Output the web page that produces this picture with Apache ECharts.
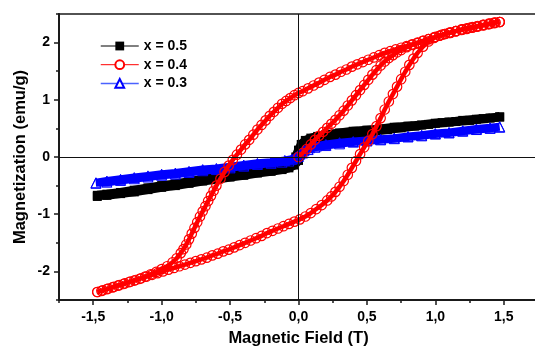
<!DOCTYPE html>
<html><head><meta charset="utf-8">
<script src="https://cdn.jsdelivr.net/npm/echarts@6/dist/echarts.min.js"></script>
<style>html,body{margin:0;padding:0;background:#fff}#c{width:535px;height:347px}</style>
</head><body><div id="c"></div>
<script>
// ---- data (field H in T, magnetization M in emu/g) ----
const seriesNames = ['x = 0.5', 'x = 0.4', 'x = 0.3'];
const xAxisTitle = 'Magnetic Field (T)';
const yAxisTitle = 'Magnetization (emu/g)';

const blackDown = [[1.47,0.70],[1.40,0.68],[1.30,0.66],[1.20,0.64],[1.10,0.61],[1.00,0.59],[0.90,0.56],[0.80,0.54],[0.70,0.52],[0.60,0.49],[0.50,0.47],[0.40,0.45],[0.30,0.42],[0.20,0.39],[0.14,0.36],[0.09,0.33],[0.05,0.29],[0.02,0.22],[0.00,0.12],[-0.02,0.00],[-0.04,-0.09],[-0.07,-0.15],[-0.12,-0.19],[-0.20,-0.22],[-0.30,-0.25],[-0.40,-0.29],[-0.50,-0.32],[-0.60,-0.36],[-0.70,-0.39],[-0.80,-0.43],[-0.90,-0.47],[-1.00,-0.50],[-1.10,-0.54],[-1.20,-0.58],[-1.30,-0.62],[-1.40,-0.65],[-1.47,-0.67]];
const blackUp = [[-1.47,-0.69],[-1.40,-0.67],[-1.30,-0.64],[-1.20,-0.61],[-1.10,-0.57],[-1.00,-0.53],[-0.90,-0.50],[-0.80,-0.46],[-0.70,-0.42],[-0.60,-0.39],[-0.50,-0.35],[-0.40,-0.32],[-0.30,-0.28],[-0.20,-0.25],[-0.12,-0.22],[-0.07,-0.19],[-0.03,-0.14],[0.00,-0.06],[0.02,0.06],[0.04,0.15],[0.07,0.22],[0.11,0.27],[0.17,0.31],[0.25,0.35],[0.35,0.39],[0.45,0.42],[0.55,0.45],[0.65,0.48],[0.75,0.51],[0.85,0.54],[0.95,0.57],[1.05,0.60],[1.15,0.62],[1.25,0.64],[1.35,0.67],[1.47,0.70]];

const redVirgin = [[0.00,0.00],[0.03,0.07],[0.06,0.14],[0.09,0.22],[0.12,0.30],[0.15,0.37],[0.18,0.44],[0.21,0.51],[0.24,0.58],[0.27,0.65],[0.30,0.73],[0.33,0.81],[0.36,0.90],[0.39,0.99],[0.42,1.08],[0.45,1.17],[0.48,1.26],[0.51,1.35],[0.54,1.44],[0.57,1.52],[0.60,1.60],[0.63,1.67],[0.66,1.73],[0.69,1.78],[0.72,1.83],[0.75,1.87],[0.79,1.92],[0.83,1.96],[0.87,1.99],[0.91,2.03],[0.95,2.06],[1.00,2.10],[1.05,2.14],[1.10,2.17],[1.15,2.20],[1.20,2.23],[1.25,2.26],[1.30,2.28],[1.35,2.31],[1.40,2.33],[1.44,2.35],[1.47,2.36]];
const redDown = [[1.47,2.36],[1.43,2.34],[1.39,2.32],[1.35,2.30],[1.31,2.28],[1.27,2.26],[1.23,2.24],[1.19,2.22],[1.15,2.20],[1.11,2.17],[1.07,2.15],[1.03,2.12],[0.99,2.09],[0.95,2.06],[0.91,2.03],[0.87,2.00],[0.83,1.97],[0.79,1.94],[0.75,1.91],[0.71,1.88],[0.67,1.85],[0.63,1.82],[0.59,1.78],[0.55,1.74],[0.51,1.70],[0.47,1.66],[0.43,1.62],[0.39,1.58],[0.35,1.53],[0.31,1.49],[0.27,1.44],[0.23,1.40],[0.19,1.35],[0.15,1.30],[0.11,1.25],[0.07,1.20],[0.03,1.15],[0.00,1.12],[-0.03,1.08],[-0.06,1.03],[-0.09,0.98],[-0.12,0.93],[-0.15,0.86],[-0.18,0.79],[-0.21,0.72],[-0.24,0.64],[-0.27,0.56],[-0.30,0.48],[-0.33,0.39],[-0.36,0.30],[-0.39,0.22],[-0.42,0.13],[-0.45,0.04],[-0.48,-0.05],[-0.51,-0.15],[-0.54,-0.26],[-0.57,-0.38],[-0.60,-0.50],[-0.62,-0.59],[-0.64,-0.68],[-0.66,-0.77],[-0.68,-0.86],[-0.70,-0.95],[-0.72,-1.04],[-0.74,-1.14],[-0.76,-1.24],[-0.78,-1.34],[-0.80,-1.44],[-0.82,-1.53],[-0.84,-1.61],[-0.86,-1.68],[-0.89,-1.77],[-0.92,-1.84],[-0.96,-1.91],[-1.00,-1.96],[-1.04,-2.01],[-1.08,-2.05],[-1.12,-2.09],[-1.16,-2.13],[-1.20,-2.16],[-1.24,-2.19],[-1.28,-2.22],[-1.32,-2.25],[-1.36,-2.28],[-1.40,-2.31],[-1.44,-2.34],[-1.47,-2.36]];
const redUp = [[-1.47,-2.36],[-1.43,-2.33],[-1.39,-2.30],[-1.35,-2.27],[-1.31,-2.24],[-1.27,-2.21],[-1.23,-2.18],[-1.19,-2.15],[-1.15,-2.12],[-1.11,-2.09],[-1.07,-2.06],[-1.03,-2.03],[-0.99,-2.00],[-0.95,-1.97],[-0.91,-1.94],[-0.87,-1.91],[-0.83,-1.88],[-0.79,-1.85],[-0.75,-1.82],[-0.71,-1.79],[-0.67,-1.76],[-0.63,-1.72],[-0.59,-1.69],[-0.55,-1.65],[-0.51,-1.62],[-0.47,-1.58],[-0.43,-1.54],[-0.39,-1.50],[-0.35,-1.46],[-0.31,-1.42],[-0.27,-1.38],[-0.23,-1.33],[-0.19,-1.29],[-0.15,-1.25],[-0.11,-1.21],[-0.07,-1.17],[-0.03,-1.13],[0.01,-1.09],[0.05,-1.04],[0.09,-0.98],[0.13,-0.91],[0.17,-0.84],[0.21,-0.76],[0.24,-0.69],[0.27,-0.61],[0.30,-0.52],[0.33,-0.42],[0.36,-0.31],[0.39,-0.19],[0.42,-0.07],[0.45,0.05],[0.48,0.17],[0.51,0.28],[0.54,0.40],[0.57,0.54],[0.60,0.68],[0.63,0.83],[0.66,0.97],[0.69,1.10],[0.72,1.23],[0.75,1.36],[0.78,1.49],[0.81,1.61],[0.84,1.72],[0.87,1.82],[0.91,1.93],[0.95,2.02],[0.99,2.08],[1.03,2.12],[1.07,2.15],[1.11,2.18],[1.15,2.20],[1.19,2.23],[1.23,2.25],[1.27,2.27],[1.31,2.29],[1.35,2.31],[1.39,2.33],[1.43,2.35],[1.47,2.36]];

const blueDown = [[1.47,0.53],[1.40,0.51],[1.30,0.49],[1.20,0.46],[1.10,0.43],[1.00,0.41],[0.90,0.38],[0.80,0.36],[0.70,0.33],[0.60,0.31],[0.50,0.29],[0.40,0.27],[0.30,0.25],[0.20,0.22],[0.13,0.19],[0.08,0.16],[0.04,0.11],[0.01,0.05],[-0.02,-0.01],[-0.05,-0.04],[-0.10,-0.06],[-0.20,-0.09],[-0.30,-0.11],[-0.40,-0.14],[-0.50,-0.17],[-0.60,-0.20],[-0.70,-0.22],[-0.80,-0.25],[-0.90,-0.28],[-1.00,-0.30],[-1.10,-0.33],[-1.20,-0.36],[-1.30,-0.39],[-1.40,-0.42],[-1.48,-0.45]];
const blueUp = [[-1.48,-0.46],[-1.40,-0.44],[-1.30,-0.41],[-1.20,-0.38],[-1.10,-0.35],[-1.00,-0.32],[-0.90,-0.30],[-0.80,-0.27],[-0.70,-0.24],[-0.60,-0.22],[-0.50,-0.19],[-0.40,-0.16],[-0.30,-0.13],[-0.20,-0.11],[-0.12,-0.09],[-0.07,-0.07],[-0.03,-0.03],[0.00,0.01],[0.03,0.07],[0.07,0.13],[0.12,0.17],[0.20,0.20],[0.30,0.23],[0.40,0.26],[0.50,0.28],[0.60,0.30],[0.70,0.32],[0.80,0.35],[0.90,0.37],[1.00,0.40],[1.10,0.42],[1.20,0.45],[1.30,0.48],[1.40,0.50],[1.47,0.52]];

const zeroLines = [{ xAxis: 0 }, { yAxis: 0 }];

// ---- chart ----
const FONT = '"Liberation Sans", Arial, sans-serif';
const AX = '#1a1a1a';
const chart = echarts.init(document.getElementById('c'), null, { renderer: 'canvas' });

const xLabel = v => v.toFixed(1).replace('.', ',');
const yLabel = v => String(Math.round(v));

chart.setOption({
  animation: false,
  backgroundColor: '#fff',
  textStyle: { fontFamily: FONT },
  grid: [
    { left: 59, right: -3, top: 14, bottom: 47, containLabel: false, outerBoundsMode: 'none', show: true, borderColor: AX, borderWidth: 1.5, backgroundColor: 'transparent' },
    { left: 93.21, right: 31.21, top: 14, bottom: 47, containLabel: false, outerBoundsMode: 'none' },
    { left: 59, right: -3, top: 42.6, bottom: 75.6, containLabel: false, outerBoundsMode: 'none' }
  ],
  xAxis: [
    { gridIndex: 0, type: 'value', min: -1.75, max: 1.75, interval: 0.25,
      axisLine: { show: true, onZero: false, lineStyle: { color: AX, width: 2 } },
      axisTick: { show: true, inside: false, length: 3, lineStyle: { color: AX, width: 1.5 } },
      axisLabel: { show: false }, splitLine: { show: false },
      name: xAxisTitle, nameLocation: 'middle', nameGap: 30,
      nameTextStyle: { fontSize: 16.5, fontWeight: 'bold', color: '#000', fontFamily: FONT } },
    { gridIndex: 1, type: 'value', min: -1.5, max: 1.5, interval: 0.5,
      axisLine: { show: false, onZero: false },
      axisTick: { show: true, inside: false, length: 5, lineStyle: { color: AX, width: 1.5 } },
      axisLabel: { show: true, margin: 10, fontSize: 14, fontWeight: 'bold', color: '#000', fontFamily: FONT, formatter: xLabel },
      splitLine: { show: false } },
    { gridIndex: 2, type: 'value', min: -1.75, max: 1.75, show: false }
  ],
  yAxis: [
    { gridIndex: 0, type: 'value', min: -2.5, max: 2.5, interval: 0.5,
      axisLine: { show: true, onZero: false, lineStyle: { color: AX, width: 2 } },
      axisTick: { show: true, inside: false, length: 3, lineStyle: { color: AX, width: 1.5 } },
      axisLabel: { show: false }, splitLine: { show: false },
      name: yAxisTitle, nameLocation: 'middle', nameGap: 30,
      nameTextStyle: { fontSize: 16.5, fontWeight: 'bold', color: '#000', fontFamily: FONT } },
    { gridIndex: 1, type: 'value', min: -2.5, max: 2.5, show: false },
    { gridIndex: 2, type: 'value', min: -2, max: 2, interval: 1,
      axisLine: { show: false, onZero: false },
      axisTick: { show: true, inside: false, length: 5, lineStyle: { color: AX, width: 1.5 } },
      axisLabel: { show: true, margin: 9, fontSize: 14, fontWeight: 'bold', color: '#000', fontFamily: FONT, formatter: yLabel },
      splitLine: { show: false } }
  ],
  legend: {
    orient: 'vertical', left: 100, top: 39, padding: 0,
    itemWidth: 38, itemHeight: 11, itemGap: 4.7,
    textStyle: { fontSize: 14, fontWeight: 'bold', color: '#000', fontFamily: FONT },
    lineStyle: { width: 1 },
    data: [
      { name: seriesNames[0] },
      { name: seriesNames[1], itemStyle: { color: '#fff' } },
      { name: seriesNames[2], itemStyle: { color: '#fff' }, lineStyle: { width: 1.5, color: '#4a62ff' } }
    ]
  },
  series: [
    { type: 'line', xAxisIndex: 0, yAxisIndex: 0, data: [], z: 1, silent: true,
      markLine: { silent: true, symbol: 'none', animation: false, label: { show: false },
        lineStyle: { color: '#111', width: 1, type: 'solid' }, emphasis: { disabled: true }, data: zeroLines } },
    { type: 'line', name: seriesNames[0], xAxisIndex: 0, yAxisIndex: 0, z: 2, silent: true,
      data: blackDown.concat(blackUp), symbol: 'rect', symbolSize: 9, showSymbol: true,
      itemStyle: { color: '#000' }, lineStyle: { color: '#000', width: 9 } },
    { type: 'line', name: seriesNames[2], xAxisIndex: 0, yAxisIndex: 0, z: 3, silent: true,
      data: blueDown.concat(blueUp), symbol: 'triangle', symbolSize: 10, showSymbol: true,
      itemStyle: { color: 'rgba(255,255,255,0)', borderColor: '#0000ff', borderWidth: 1 },
      lineStyle: { color: '#0000ff', width: 8 } },
    { type: 'line', name: seriesNames[1], xAxisIndex: 0, yAxisIndex: 0, z: 4, silent: true,
      data: redVirgin.concat(redDown, redUp), symbol: 'circle', symbolSize: 9.5, showSymbol: true,
      itemStyle: { color: 'rgba(255,255,255,0)', borderColor: '#ff0000', borderWidth: 1.2 },
      lineStyle: { color: '#ff0000', width: 4.5 } }
  ]
});
</script></body></html>
